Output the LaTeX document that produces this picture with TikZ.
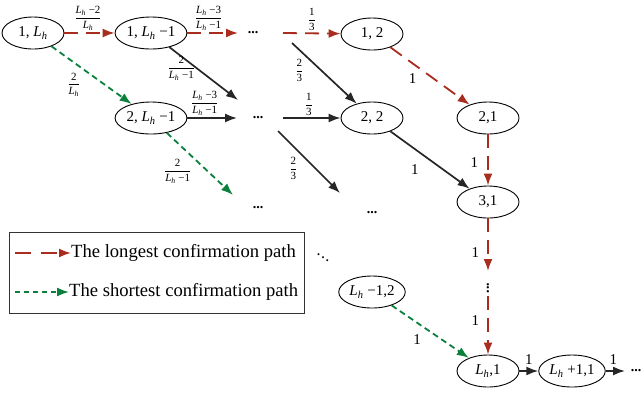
\documentclass[tikz,border=0pt]{standalone}
\usepackage{fontspec}
\setmainfont{Liberation Serif}
\usetikzlibrary{positioning,shapes.geometric,arrows.meta}
\definecolor{longred}{RGB}{168,45,30}
\definecolor{shortgreen}{RGB}{10,128,60}
\newcommand{\Lh}{\textit{L}\textsubscript{\textit{h}}}
\newcommand{\pfrac}[2]{$\displaystyle\frac{\mbox{#1}}{\mbox{#2}}$}

\begin{document}
\begin{tikzpicture}[x=1pt,y=-1pt]
        \tikzstyle{state}=[draw, ellipse, line width=0.9pt, minimum width=62pt, minimum height=32pt, inner sep=1pt, font=\fontsize{15}{17}\selectfont];
        \tikzstyle{dots}=[inner sep=0pt, font=\bfseries\fontsize{14}{16}\selectfont];
        \tikzstyle{lbl}=[inner sep=1pt, text=black, font=\fontsize{11}{13}\selectfont];
        \tikzstyle{one}=[inner sep=1pt, text=black, font=\fontsize{15}{17}\selectfont];
        \tikzstyle{longpath}=[-{Latex[length=12pt,width=9pt]}, draw=longred, line width=1.8pt, dash pattern=on 14pt off 8pt];
        \tikzstyle{shortpath}=[-{Latex[length=12pt,width=9pt]}, draw=shortgreen, line width=1.8pt, dash pattern=on 6pt off 4pt];
        \tikzstyle{trans}=[-{Latex[length=12pt,width=9pt]}, draw=black!85, line width=1.7pt];
        \useasboundingbox (0,0) rectangle (644,392);
        % states
        \node[state] (s1Lh) at (33,33) {1, \Lh};
        \node[state] (s1Lm) at (151,33) {1, \Lh{} −1};
        \node[state] (s2Lm) at (151,118) {2, \Lh{} −1};
        \node[state] (s12) at (372,34) {1, 2};
        \node[state] (s22) at (372,118) {2, 2};
        \node[state] (s21) at (488,118) {2,1};
        \node[state] (s31) at (488,202) {3,1};
        \node[state] (sLm2) at (372,292) {\Lh{} −1,2};
        \node[state] (sL1) at (488,371) {\Lh,1};
        \node[state] (sLp1) at (572,371) {\Lh{} +1,1};
        % dots
        \node[dots] (d1) at (253,33) {...};
        \node[dots] (d2) at (258,118) {...};
        \node[dots] (d3) at (258,208) {...};
        \node[dots] (d4) at (372,213) {...};
        \node[dots, font=\bfseries\fontsize{12}{14}\selectfont] (d5) at (323,255) {$\ddots$};
        \node[dots, rotate=90] (d6) at (488,288) {...};
        \node[dots] (d7) at (636,371) {...};
        \coordinate (d1in) at (238,33);
        \coordinate (d1out) at (283,33);
        \coordinate (d1dn) at (292,43);
        \coordinate (d2up) at (238,100);
        \coordinate (d2in) at (237,118);
        \coordinate (d2out) at (283,118);
        \coordinate (d2dn) at (278,131);
        \coordinate (d3in) at (233,195);
        \coordinate (d4in) at (340,193);
        \coordinate (d6in) at (488,271);
        \coordinate (d6out) at (488,296);
        \coordinate (d7in) at (625,371);
        % transitions
        \draw[longpath] (s1Lh) -- (s1Lm) node[lbl, pos=0.47, above=1pt] {\pfrac{\Lh{} −2}{\Lh}};
        \draw[longpath] (s1Lm) -- (d1in) node[lbl, pos=0.42, above=1pt] {\pfrac{\Lh{} −3}{\Lh{} −1}};
        \draw[longpath] (d1out) -- (s12) node[lbl, pos=0.5, above=1pt] {\pfrac{1}{3}};
        \draw[shortpath] (s1Lh) -- (s2Lm) node[lbl, pos=0.4, below left=2pt] {\pfrac{2}{\Lh}};
        \draw[trans] (s1Lm) -- (d2up) node[lbl, pos=0.4, anchor=east] {\pfrac{2}{\Lh{} −1}};
        \draw[trans] (s2Lm) -- (d2in) node[lbl, pos=0.35, above=1pt] {\pfrac{\Lh{} −3}{\Lh{} −1}};
        \draw[shortpath] (s2Lm) -- (d3in) node[lbl, pos=0.4, below left=0pt] {\pfrac{2}{\Lh{} −1}};
        \draw[trans] (d1dn) -- (s22) node[lbl, pos=0.45, left=16pt] {\pfrac{2}{3}};
        \draw[trans] (d2out) -- (s22) node[lbl, pos=0.45, above=1pt] {\pfrac{1}{3}};
        \draw[trans] (d2dn) -- (d4in) node[lbl, pos=0.6, left=16pt] {\pfrac{2}{3}};
        \draw[longpath] (s12) -- (s21) node[one, pos=0.38, below left=3pt] {1};
        \draw[trans] (s22) -- (s31) node[one, pos=0.45, below left=8pt] {1};
        \draw[longpath] (s21) -- (s31) node[one, pos=0.55, left=8pt] {1};
        \draw[longpath] (s31) -- (d6in) node[one, pos=0.65, left=7pt] {1};
        \draw[longpath] (d6out) -- (sL1) node[one, pos=0.42, left=7pt] {1};
        \draw[shortpath] (sLm2) -- (sL1) node[one, pos=0.45, below left=5pt] {1};
        \draw[trans] (sL1) -- (sLp1) node[one, midway, above=5pt] {1};
        \draw[trans] (sLp1) -- (d7in) node[one, pos=0.4, above=5pt] {1};
        % legend
        \draw[line width=0.9pt, black!80] (9,232) rectangle (304,313);
        \node[anchor=west, inner sep=0pt, font=\fontsize{18.6}{20}\selectfont] (legL) at (71,253) {The longest confirmation path};
        \node[anchor=west, inner sep=0pt, font=\fontsize{18.6}{20}\selectfont] (legS) at (69,292) {The shortest confirmation path};
        \coordinate (legLs) at (15,253);
        \coordinate (legSs) at (15,292);
        \draw[longpath, dash pattern=on 16pt off 10pt] (legLs) -- (legL.west);
        \draw[shortpath, dash pattern=on 5pt off 4pt] (legSs) -- (legS.west);
\end{tikzpicture}
\end{document}
